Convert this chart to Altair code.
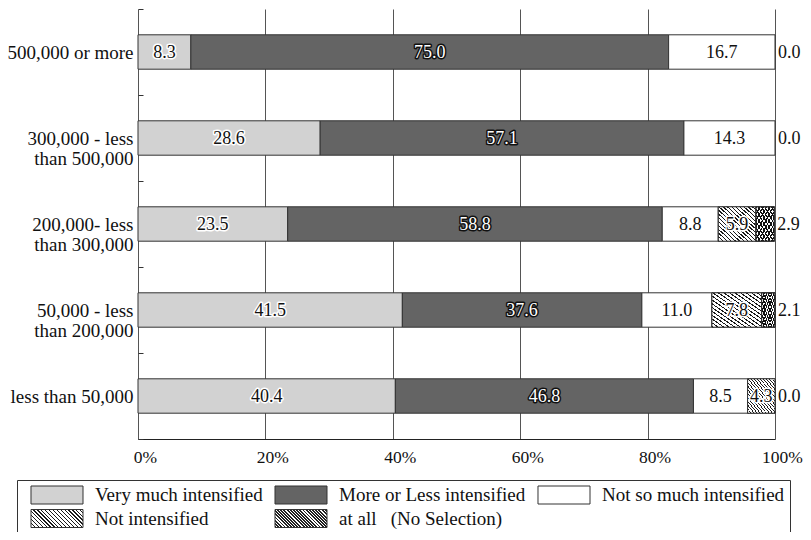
import altair as alt
import pandas as pd

# ---------------- data ----------------
categories = [
    "500,000 or more",
    "300,000 - less\nthan 500,000",
    "200,000- less\nthan 300,000",
    "50,000 - less\nthan 200,000",
    "less than 50,000",
]
series_names = [
    "Very much intensified",
    "More or Less intensified",
    "Not so much intensified",
    "Not intensified",
    "at all\u00a0\u00a0\u00a0(No Selection)",
]
very_much = [8.3, 28.6, 23.5, 41.5, 40.4]
more_or_less = [75.0, 57.1, 58.8, 37.6, 46.8]
not_so_much = [16.7, 14.3, 8.8, 11.0, 8.5]
not_intensified = [0.0, 0.0, 5.9, 7.8, 4.3]
no_selection = [0.0, 0.0, 2.9, 2.1, 0.0]

series_values = [very_much, more_or_less, not_so_much, not_intensified, no_selection]

rows = []
for i, cat in enumerate(categories):
    cum = 0.0
    for s, vals in zip(series_names, series_values):
        v = vals[i]
        rows.append({"cat": cat, "series": s, "value": v, "start": cum,
                     "end": cum + v, "mid": cum + v / 2, "label": f"{v:.1f}"})
        cum += v
    for r in rows[-5:]:
        r["total"] = cum
df = pd.DataFrame(rows)

DARK_S = series_names[1]
NI_S = series_names[3]
AA_S = series_names[4]

FONT = "Liberation Serif"

# ---------------- hatch gradients (style) ----------------
def stripe_stops(n, frac, dark, light):
    st = []
    for k in range(n):
        a, b, c = k / n, (k + frac) / n, (k + 1) / n
        st += [(a, dark), (b, dark), (b, light), (c, light)]
    return st

def grad_dict(x1, y1, x2, y2, stops):
    return {"gradient": "linear", "x1": x1, "y1": y1, "x2": x2, "y2": y2,
            "stops": [{"offset": round(o, 4), "color": c} for o, c in stops]}

def grad_expr(x1, y1, x2, y2, stops):
    s = ",".join("{offset:%g,color:'%s'}" % (round(o, 4), c) for o, c in stops)
    return "{gradient:'linear',x1:%g,y1:%g,x2:%g,y2:%g,stops:[%s]}" % (x1, y1, x2, y2, s)

# legend symbols (52x18) -> compensate aspect ratio for ~45 degree lines
leg_ni = grad_expr(-0.101, 0.708, 1.101, 0.292, stripe_stops(18, 0.32, "#1a1a1a", "#ffffff"))
leg_aa = grad_expr(-0.101, 0.708, 1.101, 0.292, stripe_stops(22, 0.6, "#222222", "#ffffff"))

bar_ni = grad_dict(0, 1, 1, 0, stripe_stops(18, 0.32, "#1a1a1a", "#ffffff"))
bar_aa1 = grad_dict(0, 1, 1, 0, stripe_stops(11, 0.38, "#111111", "#ffffff"))
bar_aa2 = grad_dict(0, 0, 1, 1, stripe_stops(11, 0.38, "#111111", "rgba(0,0,0,0)"))

color_scale = alt.Scale(domain=series_names,
                        range=["#d2d2d2", "#646464", "#ffffff",
                               {"expr": leg_ni}, {"expr": leg_aa}])

x_axis = alt.Axis(title=None, values=[0, 20, 40, 60, 80, 100],
                  labelExpr="datum.value + '%'", grid=True, gridColor="#555555",
                  gridWidth=1, domainColor="#222222", ticks=False, labelPadding=9,
                  labelOffset=7, labelFlush=False, labelFont=FONT, labelFontSize=17.5,
                  labelColor="#111111")
y_axis = alt.Axis(title=None, domain=False, ticks=True, tickBand="extent",
                  tickSize=5, tickColor="#333333", offset=-5, labelPadding=5,
                  labelFont=FONT, labelFontSize=19, labelLineHeight=20,
                  labelColor="#111111",
                  labelExpr="split(datum.label, '\\n')", grid=False, labelLimit=0)

x_scale = alt.Scale(domain=[0, 100], nice=False)
y_scale = alt.Scale(paddingInner=0, paddingOuter=0)
BAR_H = {"band": 0.4}

base = alt.Chart(df)

bars = base.transform_filter("datum.value > 0").mark_bar(
    stroke="#333333", strokeWidth=1, height=BAR_H).encode(
    x=alt.X("start:Q", scale=x_scale, axis=x_axis),
    x2="end:Q",
    y=alt.Y("cat:N", sort=categories, scale=y_scale, axis=y_axis),
    color=alt.Color("series:N", scale=color_scale,
                    legend=alt.Legend(title=None, orient="none", legendX=-121,
                                      legendY=471, direction="horizontal",
                                      columns=3,
                                      symbolType="M-2.889,-1H2.889V1H-2.889Z",
                                      symbolSize=324, symbolStrokeColor="#333333",
                                      symbolStrokeWidth=1, symbolOffset=25.5,
                                      labelOffset=28.5, labelFont=FONT,
                                      labelFontSize=19, labelColor="#111111",
                                      columnPadding=3, rowPadding=3.5, padding=5,
                                      clipHeight=20,
                                      strokeColor="#333333", fillColor="#ffffff",
                                      gridAlign="each", labelLimit=0)),
)

def overlay(series, fill):
    return base.transform_filter(
        f"datum.series == '{series}' && datum.value > 0").mark_bar(
        fill=fill, stroke="#333333", strokeWidth=1, height=BAR_H).encode(
        x=alt.X("start:Q", scale=x_scale, axis=x_axis),
        x2="end:Q",
        y=alt.Y("cat:N", sort=categories, scale=y_scale, axis=y_axis),
    )

ov_ni = overlay(NI_S, bar_ni)
ov_aa1 = overlay(AA_S, bar_aa1)
ov_aa2 = overlay(AA_S, bar_aa2)

inside = base.transform_filter(f"datum.series != '{AA_S}' && datum.value > 0")
is_dark = alt.datum.series == DARK_S

halo = inside.mark_text(font=FONT, fontSize=18, baseline="middle",
                        strokeWidth=3, strokeJoin="round", dy=1).encode(
    x=alt.X("mid:Q", scale=x_scale, axis=x_axis),
    y=alt.Y("cat:N", sort=categories, scale=y_scale, axis=y_axis),
    text="label:N",
    stroke=alt.condition(is_dark, alt.value("#111111"), alt.value("#ffffff")),
    fill=alt.condition(is_dark, alt.value("#111111"), alt.value("#ffffff")),
)
labels = inside.mark_text(font=FONT, fontSize=18, baseline="middle", dy=1).encode(
    x=alt.X("mid:Q", scale=x_scale, axis=x_axis),
    y=alt.Y("cat:N", sort=categories, scale=y_scale, axis=y_axis),
    text="label:N",
    fill=alt.condition(is_dark, alt.value("#ffffff"), alt.value("#111111")),
)
outside = base.transform_filter(f"datum.series == '{AA_S}'").mark_text(
    font=FONT, fontSize=18, baseline="middle", align="left", dx=3, dy=1,
    color="#111111").encode(
    x=alt.X("total:Q", scale=x_scale, axis=x_axis),
    y=alt.Y("cat:N", sort=categories, scale=y_scale, axis=y_axis),
    text="label:N",
)

chart = alt.layer(bars, ov_ni, ov_aa1, ov_aa2, halo, labels, outside).properties(
    width=637, height=430,
    autosize=alt.AutoSizeParams(type="none"),
    padding={"left": 130, "top": 1, "right": 28, "bottom": 93},
).configure(font=FONT).configure_view(strokeWidth=0)

chart.save("out.html", embed_options={"renderer": "svg", "actions": False})
